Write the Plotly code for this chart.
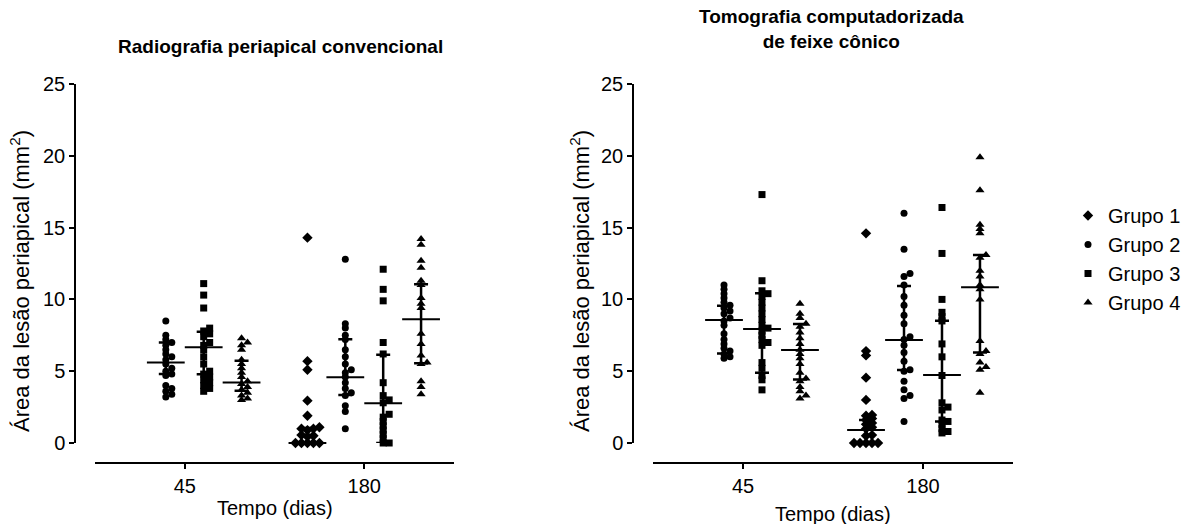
import plotly.graph_objects as go

W, H = 1193, 524
FONT = "Liberation Sans, Arial, sans-serif"

# ---------------- data ----------------
time_labels = ["45", "180"]
groups = ["Grupo 1", "Grupo 2", "Grupo 3", "Grupo 4"]
symbols = ["diamond", "circle", "square", "triangle-up"]
msizes = [8, 7, 7, 8]

# Radiografia periapical convencional
rx_45_g2 = [8.5, 7.5, 7.2, 7.0, 6.8, 6.5, 6.2, 6.0, 5.8, 5.5, 5.2, 5.0, 4.8, 4.7, 4.0, 3.8, 3.6, 3.4, 3.2]
rx_45_g3 = [11.1, 10.3, 9.4, 8.0, 7.8, 7.6, 7.4, 7.0, 6.8, 6.5, 6.0, 5.5, 5.0, 4.8, 4.6, 4.4, 4.2, 4.0, 3.8, 3.6]
rx_45_g4 = [7.3, 7.0, 6.8, 6.5, 5.8, 5.5, 5.2, 4.9, 4.6, 4.3, 4.1, 3.9, 3.7, 3.5, 3.3, 3.1, 3.0]
rx_180_g1 = [14.3, 5.7, 5.1, 2.95, 1.9, 1.1, 1.0, 1.0, 0.9, 0.55, 0.5, 0.45, 0, 0, 0, 0, 0]
rx_180_g2 = [12.8, 8.3, 8.0, 7.5, 7.2, 6.5, 6.0, 5.5, 5.1, 4.9, 4.6, 4.2, 3.8, 3.5, 3.3, 2.6, 2.2, 1.0]
rx_180_g3 = [12.1, 10.7, 9.9, 7.0, 6.2, 4.2, 3.3, 3.0, 2.8, 2.0, 1.8, 1.5, 1.2, 0.9, 0.6, 0.3, 0, 0]
rx_180_g4 = [14.2, 13.8, 12.7, 12.2, 11.3, 11.0, 10.1, 9.7, 9.4, 7.6, 6.9, 6.1, 5.6, 5.5, 4.3, 3.9, 3.4]

# Tomografia computadorizada de feixe cônico
ct_45_g2 = [11.0, 10.7, 10.4, 10.1, 9.8, 9.6, 9.4, 9.2, 9.0, 8.7, 8.5, 8.2, 7.6, 7.2, 6.9, 6.6, 6.4, 6.2, 6.0, 5.9]
ct_45_g3 = [17.3, 11.3, 10.6, 10.4, 10.2, 9.8, 9.4, 9.0, 8.6, 8.2, 8.0, 7.8, 7.5, 7.2, 7.0, 6.8, 5.6, 5.2, 4.7, 4.4, 3.7]
ct_45_g4 = [9.7, 9.0, 8.7, 8.3, 8.1, 7.7, 7.3, 6.9, 6.5, 6.2, 5.9, 5.5, 4.9, 4.5, 4.3, 3.9, 3.6, 3.3, 3.1]
ct_180_g1 = [14.6, 6.4, 6.1, 4.55, 3.0, 1.95, 1.9, 1.7, 1.6, 1.4, 1.3, 1.1, 1.0, 0.55, 0.5, 0, 0, 0, 0, 0]
ct_180_g2 = [16.0, 13.5, 11.8, 11.6, 11.0, 10.2, 9.6, 8.9, 8.3, 7.4, 7.2, 6.8, 6.3, 5.7, 5.1, 5.0, 4.3, 3.7, 3.3, 3.1, 1.5]
ct_180_g3 = [16.4, 13.2, 10.0, 9.1, 8.8, 8.5, 6.9, 6.0, 4.7, 2.8, 2.5, 2.3, 1.6, 1.5, 1.3, 1.0, 0.8, 0.7]
ct_180_g4 = [19.9, 17.6, 15.2, 14.9, 14.6, 13.1, 12.9, 12.0, 11.6, 11.0, 10.7, 10.0, 7.1, 6.4, 6.2, 5.6, 5.3, 5.1, 3.5]

# summary lines (centre, lower bar, upper bar)
rx_center = {("45", 1): 5.6, ("45", 2): 6.66, ("45", 3): 4.22,
             ("180", 0): 0.0, ("180", 1): 4.57, ("180", 2): 2.76, ("180", 3): 8.61}
rx_lower = {("45", 1): 4.8, ("45", 2): 4.78, ("45", 3): 3.64,
            ("180", 0): 0.0, ("180", 1): 3.34, ("180", 2): 0.0, ("180", 3): 5.55}
rx_upper = {("45", 1): 7.0, ("45", 2): 7.75, ("45", 3): 5.73,
            ("180", 0): 1.05, ("180", 1): 7.22, ("180", 2): 6.14, ("180", 3): 11.05}
ct_center = {("45", 1): 8.57, ("45", 2): 7.94, ("45", 3): 6.48,
             ("180", 0): 0.9, ("180", 1): 7.17, ("180", 2): 4.73, ("180", 3): 10.84}
ct_lower = {("45", 1): 6.24, ("45", 2): 4.9, ("45", 3): 4.43,
            ("180", 0): 0.0, ("180", 1): 5.08, ("180", 2): 1.49, ("180", 3): 6.3}
ct_upper = {("45", 1): 9.56, ("45", 2): 10.42, ("45", 3): 8.29,
            ("180", 0): 1.6, ("180", 1): 10.93, ("180", 2): 8.52, ("180", 3): 13.1}

rx_data = {("45", 1): rx_45_g2, ("45", 2): rx_45_g3, ("45", 3): rx_45_g4,
           ("180", 0): rx_180_g1, ("180", 1): rx_180_g2, ("180", 2): rx_180_g3, ("180", 3): rx_180_g4}
ct_data = {("45", 1): ct_45_g2, ("45", 2): ct_45_g3, ("45", 3): ct_45_g4,
           ("180", 0): ct_180_g1, ("180", 1): ct_180_g2, ("180", 2): ct_180_g3, ("180", 3): ct_180_g4}

# ---------------- layout helpers ----------------
def px_x(p):
    return p / W

def px_y(p):
    return 1 - p / H

Y_TOP, Y_BOT = 84, 443            # pixel rows of 25 and 0
Y_PX_PER_UNIT = (Y_BOT - Y_TOP) / 25.0
X_PX_PER_UNIT = 180.0
GROUP_STEP = 0.211                 # spacing between group columns (x units)


def swarm(values, base_x):
    """Deterministic horizontal spreading of overlapping points (pixel space)."""
    order = sorted(range(len(values)), key=lambda i: values[i])
    placed = []
    xs = [0.0] * len(values)
    cands = [0.0]
    for k in range(1, 10):
        cands += [k * 3.0, -k * 3.0]
    for i in order:
        ypx = values[i] * Y_PX_PER_UNIT
        chosen = 0.0
        for c in cands:
            if all(not (abs(py - ypx) < 3.2 and abs(px - c) < 5.0) for (px, py) in placed):
                chosen = c
                break
        placed.append((chosen, ypx))
        xs[i] = base_x + chosen / X_PX_PER_UNIT
    return xs


fig = go.Figure()

panels = [
    (rx_data, rx_center, rx_lower, rx_upper, "x", "y"),
    (ct_data, ct_center, ct_lower, ct_upper, "x2", "y2"),
]

for p_i, (data, cen, low, upp, xa, ya) in enumerate(panels):
    for g in range(4):
        xs_all, ys_all = [], []
        sx, sy, em, ep = [], [], [], []
        for t_i, t in enumerate(time_labels):
            key = (t, g)
            if key not in data:
                continue
            base = (t_i + 1) + (g - 1.5) * GROUP_STEP
            vals = data[key]
            xs_all += swarm(vals, base)
            ys_all += vals
            sx.append(base)
            sy.append(cen[key])
            em.append(cen[key] - low[key])
            ep.append(upp[key] - cen[key])
        fig.add_trace(go.Scatter(
            x=xs_all, y=ys_all, mode="markers", xaxis=xa, yaxis=ya,
            name=groups[g], legendgroup=groups[g], showlegend=(p_i == 1),
            marker=dict(symbol=symbols[g], size=msizes[g], color="black",
                        line=dict(width=0)),
            cliponaxis=False,
        ))
        fig.add_trace(go.Scatter(
            x=sx, y=sy, mode="markers", xaxis=xa, yaxis=ya, showlegend=False,
            marker=dict(symbol="line-ew", size=27, color="black",
                        line=dict(width=2, color="black")),
            error_y=dict(type="data", symmetric=False, array=ep, arrayminus=em,
                         width=7, thickness=2.5, color="black"),
            cliponaxis=False, hoverinfo="skip",
        ))

axis_common = dict(showgrid=False, zeroline=False, showline=True, linecolor="black",
                   linewidth=1.5, ticks="outside", ticklen=5, tickwidth=1.5,
                   tickcolor="black", automargin=False,
                   tickfont=dict(family=FONT, size=20, color="black"))

fig.update_layout(
    width=W, height=H,
    margin=dict(l=0, r=0, t=0, b=0, pad=0, autoexpand=False),
    paper_bgcolor="white", plot_bgcolor="white",
    showlegend=True,
    legend=dict(x=px_x(1068), y=px_y(196), xanchor="left", yanchor="top",
                font=dict(family=FONT, size=20, color="black"),
                tracegroupgap=0, itemsizing="trace", bgcolor="rgba(0,0,0,0)"),
    xaxis=dict(axis_common, domain=[px_x(95), px_x(454)], range=[0.5, 2.5],
               tickvals=[1, 2], ticktext=time_labels, anchor="free", position=px_y(463)),
    yaxis=dict(axis_common, domain=[px_y(Y_BOT), px_y(Y_TOP)], range=[0, 25],
               tickvals=[0, 5, 10, 15, 20, 25], anchor="free", position=px_x(75)),
    xaxis2=dict(axis_common, domain=[px_x(653), px_x(1013)], range=[0.5, 2.5],
                tickvals=[1, 2], ticktext=time_labels, anchor="free", position=px_y(463)),
    yaxis2=dict(axis_common, domain=[px_y(Y_BOT), px_y(Y_TOP)], range=[0, 25],
                tickvals=[0, 5, 10, 15, 20, 25], anchor="free", position=px_x(633)),
)

ann_font = dict(family=FONT, size=20, color="black")
ytitle_font = dict(family=FONT, size=22, color="black")
title_font = dict(family=FONT, size=19, color="black")
annotations = [
    dict(text="<b>Radiografia periapical convencional</b>", x=px_x(280), y=px_y(47),
         font=title_font),
    dict(text="<b>Tomografia computadorizada<br>de feixe cônico</b>", x=px_x(831), y=px_y(29),
         font=title_font),
    dict(text="Tempo (dias)", x=px_x(275), y=px_y(508), font=ann_font),
    dict(text="Tempo (dias)", x=px_x(833), y=px_y(514), font=ann_font),
    dict(text="Área da lesão periapical (mm<sup>2</sup>)", x=px_x(20), y=px_y(281),
         textangle=-90, font=ytitle_font),
    dict(text="Área da lesão periapical (mm<sup>2</sup>)", x=px_x(580), y=px_y(281),
         textangle=-90, font=ytitle_font),
]
for a in annotations:
    a.update(xref="paper", yref="paper", showarrow=False, xanchor="center", yanchor="middle")
fig.update_layout(annotations=annotations)

fig.write_html("out.html")
